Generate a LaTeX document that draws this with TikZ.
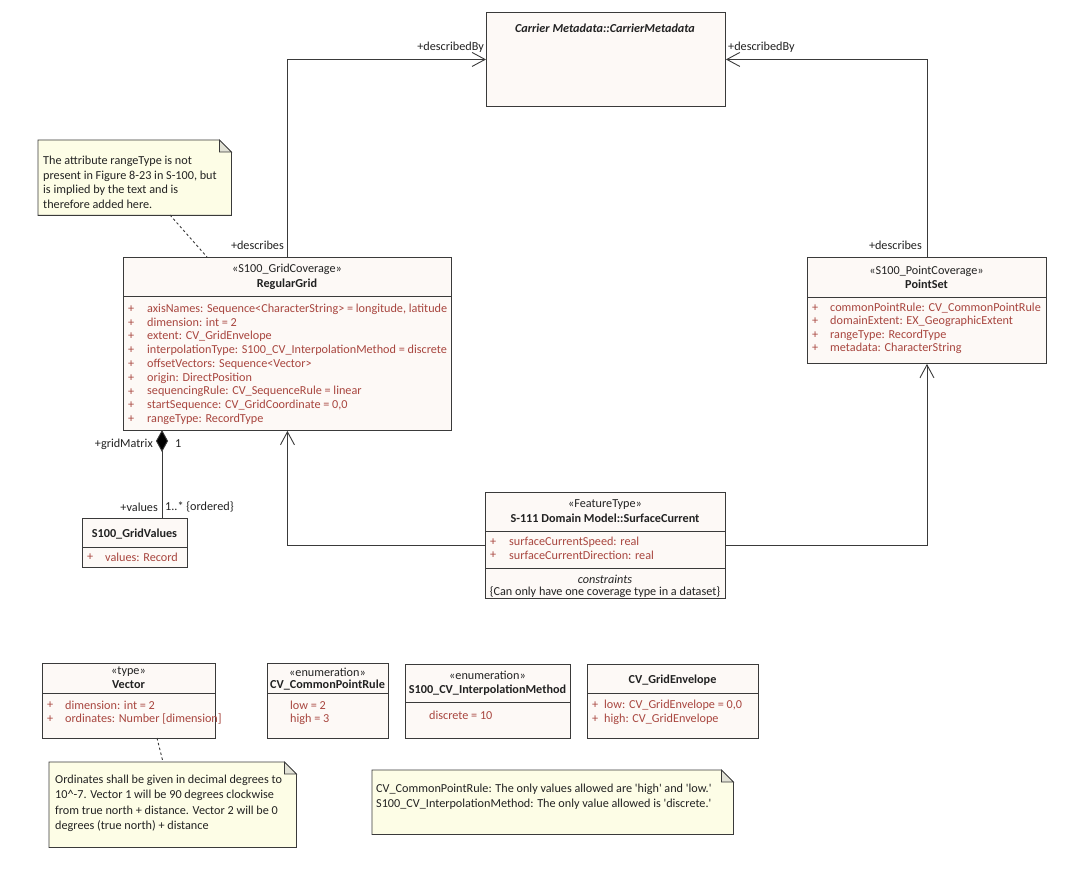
\documentclass[tikz,border=0pt]{standalone}
\usepackage{fontspec}
\setmainfont{Carlito}[Ligatures=TeXOff]
\usetikzlibrary{arrows.meta}
\definecolor{clsfill}{HTML}{FDF9F6}
\definecolor{notefill}{HTML}{FDFDE6}
\definecolor{foldfill}{HTML}{E2E2D6}
\definecolor{attrc}{HTML}{A8463F}
\definecolor{edgec}{HTML}{3A3A3A}
\definecolor{txtc}{HTML}{222222}
\newcommand\fsz{\fontsize{12.2}{14.6}\selectfont}
\tikzset{
  cls/.style={draw=edgec, fill=clsfill, line width=0.9pt, inner sep=0pt, rectangle, anchor=north west},
  notebg/.style={inner sep=0pt, rectangle, anchor=north west},
  notedraw/.style={draw=edgec, fill=notefill, line width=0.8pt},
  folddraw/.style={draw=edgec, fill=foldfill, line width=0.8pt},
  sepline/.style={draw=edgec, line width=0.9pt},
  txt/.style={font=\fsz, inner sep=0pt, text=txtc},
  ttl/.style={txt, font=\fsz\bfseries},
  atr/.style={txt, text=attrc, anchor=west},
  lbl/.style={txt, text=txtc},
  conn/.style={draw=edgec, line width=0.9pt},
  navarrow/.style={conn, -{Straight Barb[length=13pt,width=14pt,line width=0.9pt]}},
  comp/.style={conn, {Diamond[length=22pt,width=12pt,fill=black]}-},
  notelink/.style={draw=edgec, line width=0.9pt, dash pattern=on 2.5pt off 2.5pt},
  notetext/.style={txt, anchor=north west, align=left},
}
\begin{document}
\begin{tikzpicture}[x=1pt,y=-1pt]
\useasboundingbox (0,0) rectangle (1080,869);
\fill[white] (0,0) rectangle (1080,869);

% ---------- Carrier Metadata ----------
\node[cls, minimum width=239pt, minimum height=94pt] (cm) at (486,12) {};
\node[txt, font=\fsz\bfseries\itshape] (cmt) at (605,28) {Carrier Metadata::CarrierMetadata};

% ---------- RegularGrid ----------
\node[cls, minimum width=328pt, minimum height=173pt] (rg) at (123,257) {};
\draw[sepline] (rg.west |- 0,296) -- (rg.east |- 0,296);
\node[txt] (rgs) at (287,269) {«S100\_GridCoverage»};
\node[ttl] (rgn) at (287,284) {RegularGrid};
\foreach \t [count=\i from 0] in {
  {axisNames: Sequence<CharacterString> = longitude, latitude},
  {dimension: int = 2},
  {extent: CV\_GridEnvelope},
  {interpolationType: S100\_CV\_InterpolationMethod = discrete},
  {offsetVectors: Sequence<Vector>},
  {origin: DirectPosition},
  {sequencingRule: CV\_SequenceRule = linear},
  {startSequence: CV\_GridCoordinate = 0,0},
  {rangeType: RecordType}}{
  \node[atr] (rgp\i) at (128,309+13.8*\i) {+};
  \node[atr] (rga\i) at (147,309+13.8*\i) {\t};
}

% ---------- PointSet ----------
\node[cls, minimum width=239pt, minimum height=106pt] (ps) at (807,257) {};
\draw[sepline] (ps.west |- 0,297) -- (ps.east |- 0,297);
\node[txt] (pss) at (926.5,271) {«S100\_PointCoverage»};
\node[ttl] (psn) at (926.5,284) {PointSet};
\foreach \t [count=\i from 0] in {
  {commonPointRule: CV\_CommonPointRule},
  {domainExtent: EX\_GeographicExtent},
  {rangeType: RecordType},
  {metadata: CharacterString}}{
  \node[atr] (psp\i) at (812,308+13.5*\i) {+};
  \node[atr] (psa\i) at (830,308+13.5*\i) {\t};
}

% ---------- S100_GridValues ----------
\node[cls, minimum width=105pt, minimum height=49pt] (gv) at (82,518) {};
\draw[sepline] (gv.west |- 0,547) -- (gv.east |- 0,547);
\node[ttl] (gvn) at (134.5,534) {S100\_GridValues};
\node[atr] (gvp) at (87,557) {+};
\node[atr] (gva) at (105,557) {values: Record};

% ---------- SurfaceCurrent ----------
\node[cls, minimum width=240pt, minimum height=106pt] (sc) at (485,492) {};
\draw[sepline] (sc.west |- 0,531) -- (sc.east |- 0,531);
\draw[sepline] (sc.west |- 0,568) -- (sc.east |- 0,568);
\node[txt] (scs) at (605,505) {«FeatureType»};
\node[ttl] (scn) at (605,518) {S-111 Domain Model::SurfaceCurrent};
\node[atr] (scp0) at (490,542) {+};
\node[atr] (sca0) at (509,542) {surfaceCurrentSpeed: real};
\node[atr] (scp1) at (490,555) {+};
\node[atr] (sca1) at (509,555) {surfaceCurrentDirection: real};
\node[txt, font=\fsz\itshape] (scc) at (605,579) {constraints};
\node[txt] (sck) at (605,592) {\{Can only have one coverage type in a dataset\}};

% ---------- Vector ----------
\node[cls, minimum width=173pt, minimum height=75pt] (vec) at (42,663) {};
\draw[sepline] (vec.west |- 0,693) -- (vec.east |- 0,693);
\node[txt] (vecs) at (128.5,672) {«type»};
\node[ttl] (vecn) at (128.5,685) {Vector};
\node[atr] (vecp0) at (47,705) {+};
\node[atr] (veca0) at (65,705) {dimension: int = 2};
\node[atr] (vecp1) at (47,719) {+};
\node[atr] (veca1) at (65,719) {ordinates: Number [dimension]};

% ---------- CV_CommonPointRule ----------
\node[cls, minimum width=121pt, minimum height=75pt] (cpr) at (267,663) {};
\draw[sepline] (cpr.west |- 0,693) -- (cpr.east |- 0,693);
\node[txt] (cprs) at (327.5,672) {«enumeration»};
\node[ttl] (cprn) at (327.5,685) {CV\_CommonPointRule};
\node[atr] (cpra0) at (290,705) {low = 2};
\node[atr] (cpra1) at (290,719) {high = 3};

% ---------- S100_CV_InterpolationMethod ----------
\node[cls, minimum width=165pt, minimum height=74pt] (sim) at (405,664) {};
\draw[sepline] (sim.west |- 0,702) -- (sim.east |- 0,702);
\node[txt] (sims) at (487.5,675) {«enumeration»};
\node[ttl] (simn) at (487.5,690) {S100\_CV\_InterpolationMethod};
\node[atr] (sima0) at (429,715) {discrete = 10};

% ---------- CV_GridEnvelope ----------
\node[cls, minimum width=171pt, minimum height=74pt] (ge) at (587,664) {};
\draw[sepline] (ge.west |- 0,693) -- (ge.east |- 0,693);
\node[ttl] (gen) at (672.5,680) {CV\_GridEnvelope};
\node[atr] (gep0) at (592,705) {+};
\node[atr] (gea0) at (604,705) {low: CV\_GridEnvelope = 0,0};
\node[atr] (gep1) at (592,719) {+};
\node[atr] (gea1) at (604,719) {high: CV\_GridEnvelope};

% ---------- Notes ----------
\node[notebg, minimum width=193pt, minimum height=75pt] (n1) at (38,140) {};
\draw[notedraw] (n1.south west) -- (n1.north west) -- ([xshift=-12pt]n1.north east) -- ([yshift=-12pt]n1.north east) -- (n1.south east) -- cycle;
\draw[folddraw] ([xshift=-12pt]n1.north east) -- ([xshift=-12pt,yshift=-12pt]n1.north east) -- ([yshift=-12pt]n1.north east) -- cycle;
\node[notetext, font=\fontsize{12.2}{14.6}\selectfont] (n1t) at (43,156) {The attribute rangeType is not\\present in Figure 8-23 in S-100, but\\is implied by the text and is\\therefore added here.};

\node[notebg, minimum width=247pt, minimum height=85pt] (n2) at (49,762) {};
\draw[notedraw] (n2.south west) -- (n2.north west) -- ([xshift=-12pt]n2.north east) -- ([yshift=-12pt]n2.north east) -- (n2.south east) -- cycle;
\draw[folddraw] ([xshift=-12pt]n2.north east) -- ([xshift=-12pt,yshift=-12pt]n2.north east) -- ([yshift=-12pt]n2.north east) -- cycle;
\node[notetext, font=\fontsize{12.2}{15.3}\selectfont] (n2t) at (55,775) {Ordinates shall be given in decimal degrees to\\10\^{}-7. Vector 1 will be 90 degrees clockwise\\from true north + distance. Vector 2 will be 0\\degrees (true north) + distance};

\node[notebg, minimum width=361pt, minimum height=64pt] (n3) at (372,770) {};
\draw[notedraw] (n3.south west) -- (n3.north west) -- ([xshift=-12pt]n3.north east) -- ([yshift=-12pt]n3.north east) -- (n3.south east) -- cycle;
\draw[folddraw] ([xshift=-12pt]n3.north east) -- ([xshift=-12pt,yshift=-12pt]n3.north east) -- ([yshift=-12pt]n3.north east) -- cycle;
\node[notetext, font=\fontsize{12.2}{15}\selectfont] (n3t) at (376,784) {CV\_CommonPointRule: The only values allowed are 'high' and 'low.'\\S100\_CV\_InterpolationMethod: The only value allowed is 'discrete.'};

% ---------- Connectors ----------
\draw[navarrow] (rg.north) |- (cm.west);
\draw[navarrow] (ps.north) |- (cm.east);
\draw[navarrow] (sc.west) -| (rg.south);
\draw[navarrow] (sc.east) -| (ps.south);

\coordinate (gmx) at (162,430);
\draw[comp] (gmx) -- (gmx |- gv.north);

\coordinate (n1a) at (170,215);
\coordinate (rgnote) at (207,257);
\draw[notelink] (n1a) -- (rgnote);
\coordinate (vecnote) at (157,738);
\coordinate (n2a) at (163,762);
\draw[notelink] (vecnote) -- (n2a);

% ---------- Labels ----------
\node[lbl, anchor=east] (l1) at (484,47) {+describedBy};
\node[lbl, anchor=west] (l2) at (728,47) {+describedBy};
\node[lbl, anchor=east] (l3) at (284,245) {+describes};
\node[lbl, anchor=east] (l4) at (922,245) {+describes};
\node[lbl, anchor=east] (l5) at (153,444) {+gridMatrix};
\node[lbl, anchor=west] (l6) at (175,444) {1};
\node[lbl, anchor=east] (l7) at (158,507) {+values};
\node[lbl, anchor=west] (l8) at (165,507) {1..* \{ordered\}};
\end{tikzpicture}
\end{document}
